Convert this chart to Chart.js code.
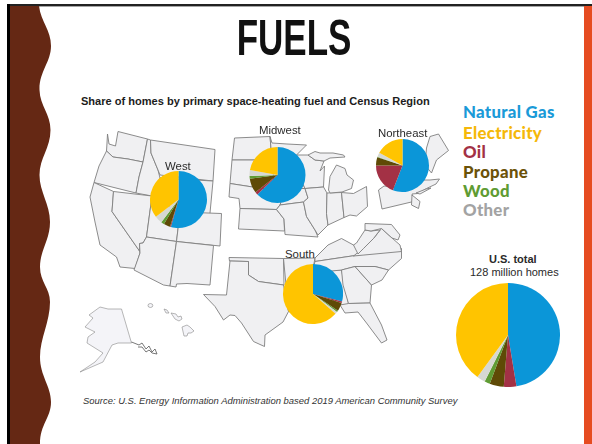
<!DOCTYPE html>
<html>
<head>
<meta charset="utf-8">
<title>Fuels</title>
<script src="https://cdn.jsdelivr.net/npm/chart.js@4"></script>
<style>
  html, body { margin: 0; padding: 0; background: #fff; }
  #slide { position: relative; width: 592px; height: 444px; overflow: hidden; background: #fff; font-family: "Liberation Sans", sans-serif; }
  #slide svg { position: absolute; left: 0; top: 0; }
  #map { filter: blur(0.35px); }
  #map path { fill: #f0f0f2; stroke: #7f7f7f; stroke-width: 0.9; stroke-linejoin: round; }
  #map .thin { fill: #f4f4f8; stroke: #888; stroke-width: 0.6; }
  #map .scribble { fill: none; stroke: #555; stroke-width: 0.8; }
  canvas { position: absolute; }
  .txt { position: absolute; white-space: nowrap; color: #222; }
  #title { left: 144px; width: 300px; top: 8px; text-align: center; font: bold 50px/60px "Liberation Sans", sans-serif; color: #111; transform: scaleX(0.7); }
  #subtitle { left: 81px; top: 94px; font: bold 11.05px/14px "Liberation Sans", sans-serif; color: #1c1c1c; }
  .region { font: 11.4px/14px "Liberation Sans", sans-serif; color: #2a2a2a; }
  .key { left: 463px; font: 900 16.8px/20px Lato, sans-serif; letter-spacing: 0.3px; }
  #source { left: 83px; top: 394px; font: italic 9.45px/13px "Liberation Sans", sans-serif; color: #333; }
</style>
</head>
<body>
<div id="slide">
  <svg width="592" height="444">
    <rect x="7" y="4" width="585" height="2.4" fill="#222"/>
    <rect x="7" y="4" width="3" height="440" fill="#000"/>
    <rect x="584" y="6" width="8" height="438" fill="#e64c21"/>
    <path fill="#652814" d="M10 6 L39 6 C41 22 51 30 51 46 C51 62 39 72 39.5 90 C40 106 50.5 114 50.5 130 C50.5 148 39.5 158 39.5 175 C39.5 192 50 204 50 222 C50 240 40 250 40 267 C40 282 50 288 50 302 C50 322 40 338 40 357 C40 376 51 386 51 402 C51 418 40 424 40 444 L10 444 Z"/>
  </svg>

  <svg id="map" width="592" height="444">
    <!-- west -->
    <path d="M107.5 134 L109 144 L115.5 146 L118 131.5 L147.5 139 L143 162 L128 159 L113 157 L106.5 151 L107 143 Z"/>
    <path d="M106.5 151 L113 157 L128 159 L143 162 L139 177 L136 193 L94 182.5 L99 166 Z"/>
    <path d="M147.5 139 L150.5 140 L151 153 L158 170 L160 178 L172 180 L170 198 L152 196 L136 193 L139 177 L143 162 Z"/>
    <path d="M150.5 140 L215 149.5 L213 181 L160 175 L158 170 L151 153 Z"/>
    <path d="M160 178 L213 181 L210 213 L208 228 L150 221 L152 196 Z"/>
    <path d="M94 182.5 L113.5 191.5 L112 211.5 L139.5 251 L140 253 L135 268.5 L120 267 L116.5 257 L100 245 L95 222 L90 197 Z"/>
    <path d="M113.5 191.5 L152 196 L146.5 237 L143 243 L139.5 243.5 L139.5 251 L112 211.5 Z"/>
    <path d="M152 196 L170 198 L169 210 L180 212 L176.5 241.5 L146.5 237 Z"/>
    <path d="M180 212 L221.5 213.5 L220 246 L176.5 241.5 Z"/>
    <path d="M146.5 237 L176.5 241.5 L170 286 L163.5 285 L134 270 L140 253 L139.5 243.5 L143 243 Z"/>
    <path d="M176.5 241.5 L213.5 245.5 L210 285 L187 283.5 L176.5 284 L176 287 L170 286 Z"/>
    <!-- midwest -->
    <path d="M234.5 138 L270 136.5 L272 160 L232 160 Z"/>
    <path d="M232 160 L272 160 L274 186 L272 190 L230 183.5 Z"/>
    <path d="M230 183.5 L272 190 L283 196 L280 205 L276.5 209.5 L240 208.5 L239 198.5 L229 197 Z"/>
    <path d="M240 208.5 L276.5 209.5 L284 219 L284.5 231 L238.5 229 Z"/>
    <path d="M270 136.5 L272 143 L287 144 L306.5 145 L296.5 155 L298 173 L305 188.5 L275 188 L272 160 Z"/>
    <path d="M275 188 L305 188.5 L308 198 L303.5 202 L280 205 L283 196 Z"/>
    <path d="M280 205 L303.5 202 L306.5 216.5 L315 230 L318 237 L285 234.5 L284 219 L276.5 209.5 Z"/>
    <path d="M296.5 155 L308 155 L315 160 L324 161 L320 171 L324.5 166 L323.5 187 L305 188.5 L298 173 Z"/>
    <path d="M308 155 L315 151.5 L320 153 L333 153 L343.5 155 L345 157 L330 158 L324 161 L315 160 Z"/>
    <path d="M305 188.5 L323.5 187 L327 193 L326.5 213.5 L328 225 L318 235 L315 230 L306.5 216.5 L303.5 202 L308 198 Z"/>
    <path d="M327 193 L341.5 192.5 L344 217.5 L328 225 L326.5 213.5 Z"/>
    <path d="M341.5 192.5 L353.5 193.5 L366.5 186.5 L367.5 206.5 L356.5 216 L350 215 L344 217.5 Z"/>
    <path d="M328.5 190 L330 176.5 L336.5 165 L345 168.5 L347 175 L353.5 180 L351.5 188.5 L342 192 L330 193 Z"/>
    <!-- northeast -->
    <path d="M426.5 148 L430 136.5 L438.5 134 L448.5 150.5 L436.5 160 L431.5 173 L425 165 Z"/>
    <path d="M378.5 190 L384 186 L412 188 L418 180 L430 180 L439.5 179 L436 184 L426.5 188.5 L418 193.5 L412 194 L413.5 201.5 L382 209 Z"/>
    <path d="M412 195 L420 201.5 L418.5 208.5 L411.5 205 Z"/>
    <path d="M416 193 L426 189 L431 188 L420 194 Z"/>
    <!-- south -->
    <path d="M229 257.5 L283.5 258.5 L284 285 L258.5 281.5 L248.5 275 L248.5 261.5 L229.5 261 Z"/>
    <path d="M230 261 L248.5 261.5 L248.5 275 L258.5 281.5 L283.5 285 L288.5 311.5 L283 322 L265 335 L264.5 346.5 L253.5 341.5 L241.5 323 L235 315.5 L230 315 L223.5 320 L215 306.5 L203.5 294.5 L226.5 295 Z"/>
    <path d="M283.5 258.5 L315 258 L310 285 L286 285 Z"/>
    <path d="M286 285 L330 285 L338 306 L320 316 L288.5 311.5 Z"/>
    <path d="M312 272 L341.5 270 L348.5 303.5 L345 306 L336 304 Z"/>
    <path d="M315 258 L328 245 L341.5 238.5 L353.5 245 L361.5 252 L358.5 255 L315 261.5 Z"/>
    <path d="M315 261.5 L358.5 255 L401.5 248.5 L401.5 258.5 L388.5 270 L375 266.5 L355 266.5 L341.5 270 L312 273 Z"/>
    <path d="M353.5 256 L363.5 248 L373.5 238.5 L381.5 228.5 L392 238 L400 245 L401.5 251.5 Z"/>
    <path d="M353.5 245 L356.5 243 L365 230 L371 231 L380 230 L373.5 238.5 L363.5 248.5 L358 254 Z"/>
    <path d="M341.5 270 L355 266.5 L371.5 285 L370 303 L348.5 303.5 L343 285 Z"/>
    <path d="M355 266.5 L375 266.5 L388.5 270 L382 280 L371.5 285 Z"/>
    <path d="M340 305 L348.5 303.5 L370 303 L381.5 325 L387 340 L381.5 343 L366.5 323 L358 312 L345 313 Z"/>
    <path d="M365 223.5 L391.5 224.5 L400 235 L398 240 L392 238 L381.5 228.5 L371 231 L365 230 Z"/>
    <!-- alaska and hawaii -->
    <path class="thin" d="M121.5 309 L131.5 343 L118 343 L112 345 L103 362 L80 372 L95 362 L103 353 L95 348 L87 343 L88 337 L95 332 L85 327 L93 318 L89 315 L100 307 L108 309 Z"/>
    <path class="scribble" d="M131.5 342 L139 345 L142 343 L146 349 L149 346 L152 352 L155 349 L157 354 L152 353 L149 350 L146 352 L142 347 L138 347"/>
    <path class="thin" d="M148 305.5 a2.4 2 0 1 0 4.8 0 a2.4 2 0 1 0 -4.8 0 Z M164 309 l3 1 l2 3 l-3 0 Z M171 313 l5 1 l2 3 l3 -1 l1 3 l-3 2 l-4 -2 Z M182 327 l5 -2 l3 2 l4 4 l-3 2 l-3 0 l-1 3 l-3 0 Z"/>
  </svg>

  <canvas id="westPie" width="57" height="57" style="left:150px;top:171px"></canvas>
  <canvas id="midwestPie" width="57" height="56" style="left:249px;top:147px"></canvas>
  <canvas id="northeastPie" width="53" height="53" style="left:376px;top:139px"></canvas>
  <canvas id="southPie" width="60" height="60" style="left:283px;top:264px"></canvas>
  <canvas id="totalPie" width="104" height="104" style="left:455.5px;top:283px"></canvas>

  <div class="txt" id="title">FUELS</div>
  <div class="txt" id="subtitle">Share of homes by primary space-heating fuel and Census Region</div>

  <div class="txt region" style="left:165px;top:159px">West</div>
  <div class="txt region" style="left:259px;top:123px">Midwest</div>
  <div class="txt region" style="left:378px;top:126px">Northeast</div>
  <div class="txt region" style="left:285px;top:247px">South</div>
  <div class="txt region" style="left:489px;top:252px;font-weight:bold;font-size:11px">U.S. total</div>
  <div class="txt region" style="left:470px;top:265px;font-size:11px">128 million homes</div>

  <div id="legend"></div>
  <div class="txt" id="source">Source: U.S. Energy Information Administration based 2019 American Community Survey</div>
</div>

<script>
const fuels = ['Natural Gas', 'Oil', 'Propane', 'Wood', 'Other', 'Electricity'];
const legendOrder = ['Natural Gas', 'Electricity', 'Oil', 'Propane', 'Wood', 'Other'];

const westValues = [54.3, 0.5, 3.7, 1.8, 4.3, 35.4];
const midwestValues = [62.8, 1.6, 8.4, 1.7, 3.4, 22.1];
const northeastValues = [55.9, 19.1, 5, 0.4, 2.6, 17];
const southValues = [29, 0.9, 4.5, 0.9, 1.2, 63.5];
const totalValues = [47.4, 3.9, 4.4, 1.7, 2.6, 40];

const fuelColors = {
  'Natural Gas': '#0b96d8',
  'Oil': '#a33145',
  'Propane': '#5f4a06',
  'Wood': '#5f9c33',
  'Other': '#d6d8d2',
  'Electricity': '#ffc400'
};
const legendColors = {
  'Natural Gas': '#1a9ad8',
  'Electricity': '#f5b80a',
  'Oil': '#a33145',
  'Propane': '#6b5208',
  'Wood': '#5f9c33',
  'Other': '#a3a3a3'
};
const legendTops = [102, 122.5, 142, 162, 181, 200];

const drawPie = (id, values) => {
  new Chart(document.getElementById(id).getContext('2d'), {
    type: 'pie',
    data: {
      labels: fuels,
      datasets: [{
        data: values,
        backgroundColor: fuels.map(fuel => fuelColors[fuel]),
        borderWidth: 0
      }]
    },
    options: {
      responsive: false,
      animation: false,
      plugins: {
        legend: { display: false },
        tooltip: { enabled: false }
      }
    }
  });
};

drawPie('westPie', westValues);
drawPie('midwestPie', midwestValues);
drawPie('northeastPie', northeastValues);
drawPie('southPie', southValues);
drawPie('totalPie', totalValues);

// legend is plain text to the right of the map
const legend = document.getElementById('legend');
legendOrder.forEach((fuel, i) => {
  const row = document.createElement('div');
  row.className = 'txt key';
  row.style.top = legendTops[i] + 'px';
  row.style.color = legendColors[fuel];
  row.textContent = fuel;
  legend.appendChild(row);
});
</script>
</body>
</html>
